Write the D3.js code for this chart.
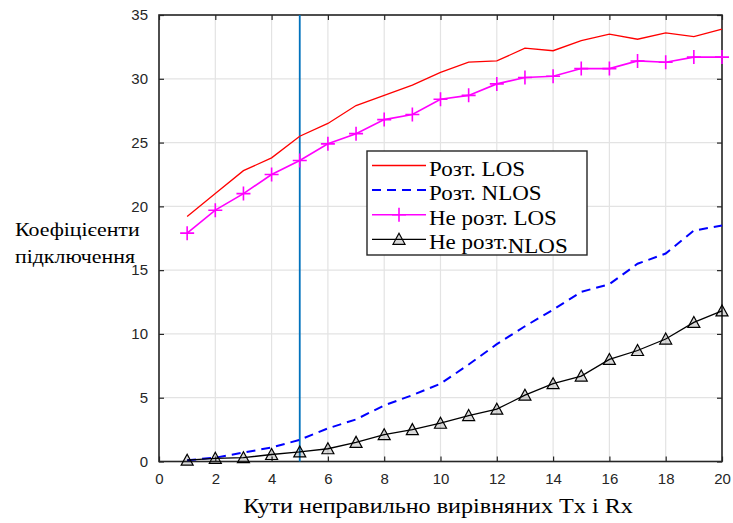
<!DOCTYPE html>
<html lang="uk">
<head>
    <meta charset="UTF-8">
    <title>Коефіцієнти підключення</title>
    <style>
        body {
            margin: 0;
            background: #fff;
        }
        .tick text {
            font: 15px 'Liberation Sans', Arial, sans-serif;
            fill: #262626;
        }
        .serif {
            font-family: 'Liberation Serif', 'Times New Roman', serif;
            fill: #000;
        }
    </style>
</head>
<body>
    <div id="chart"></div>

    <script src="https://d3js.org/d3.v7.min.js"></script>
    <script>
        // кути неправильного вирівнювання
        const angles = [1, 2, 3, 4, 5, 6, 7, 8, 9, 10, 11, 12, 13, 14, 15, 16, 17, 18, 19, 20];

        const postLOS    = [19.2, 21.0, 22.8, 23.8, 25.5, 26.5, 27.9, 28.7, 29.5, 30.5, 31.3, 31.4, 32.4, 32.2, 33.0, 33.5, 33.1, 33.6, 33.3, 33.9];
        const postNLOS   = [0.1, 0.3, 0.7, 1.1, 1.7, 2.6, 3.3, 4.4, 5.2, 6.1, 7.6, 9.2, 10.6, 11.9, 13.3, 13.9, 15.5, 16.3, 18.1, 18.5];
        const nePostLOS  = [17.9, 19.7, 21.0, 22.5, 23.6, 24.9, 25.7, 26.8, 27.2, 28.4, 28.7, 29.6, 30.1, 30.2, 30.8, 30.8, 31.4, 31.3, 31.7, 31.7];
        const nePostNLOS = [0.1, 0.25, 0.3, 0.55, 0.75, 1.0, 1.5, 2.1, 2.5, 3.0, 3.6, 4.1, 5.2, 6.1, 6.7, 8.0, 8.7, 9.6, 10.9, 11.8];

        const seriesNames = ['Розт. LOS', 'Розт. NLOS', 'Не розт. LOS', 'Не розт.NLOS'];

        const xTicks = [0, 2, 4, 6, 8, 10, 12, 14, 16, 18, 20];
        const yTicks = [0, 5, 10, 15, 20, 25, 30, 35];
        const markerX = 5; // вертикальна лінія

        const W = 733, H = 523;
        const margin = {top: 15, right: 11, bottom: 61.5, left: 159},
            width = W - margin.left - margin.right,
            height = H - margin.top - margin.bottom;

        const stretch = 1.15; // шрифт у оригіналі трохи ширший

        const root = d3.select("#chart")
          .append("svg")
            .attr("width", W)
            .attr("height", H);

        root.append("rect").attr("width", W).attr("height", H).attr("fill", "#fff");

        const svg = root.append("g")
            .attr("transform", "translate(" + margin.left + "," + margin.top + ")");

        const x = d3.scaleLinear().domain([0, 20]).range([0, width]);
        const y = d3.scaleLinear().domain([0, 35]).range([height, 0]);

        // сітка
        svg.append("g")
            .selectAll("line")
            .data(xTicks)
            .join("line")
            .attr("x1", d => x(d)).attr("x2", d => x(d))
            .attr("y1", 0).attr("y2", height)
            .attr("stroke", "#e3e3e3").attr("stroke-width", 1.2);
        svg.append("g")
            .selectAll("line")
            .data(yTicks)
            .join("line")
            .attr("x1", 0).attr("x2", width)
            .attr("y1", d => y(d)).attr("y2", d => y(d))
            .attr("stroke", "#e3e3e3").attr("stroke-width", 1.2);

        // осі (ticks всередину, як у MATLAB)
        const styleAxis = g => {
            g.select(".domain").remove();
            g.selectAll(".tick line").attr("stroke", "#262626").attr("stroke-width", 1.2);
        };
        svg.append("g")
            .attr("transform", "translate(0," + height + ")")
            .call(d3.axisBottom(x).tickValues(xTicks).tickSizeInner(-5).tickSizeOuter(0).tickPadding(12))
            .call(styleAxis);
        svg.append("g")
            .call(d3.axisLeft(y).tickValues(yTicks).tickSizeInner(-5).tickSizeOuter(0).tickPadding(11))
            .call(styleAxis);
        svg.append("g")
            .call(d3.axisTop(x).tickValues(xTicks).tickSizeInner(-5).tickSizeOuter(0).tickFormat(""))
            .call(styleAxis);
        svg.append("g")
            .attr("transform", "translate(" + width + ",0)")
            .call(d3.axisRight(y).tickValues(yTicks).tickSizeInner(-5).tickSizeOuter(0).tickFormat(""))
            .call(styleAxis);

        svg.append("rect")
            .attr("width", width).attr("height", height)
            .attr("fill", "none").attr("stroke", "#262626").attr("stroke-width", 1.6);

        // лінії даних
        const line = d3.line().x(d => x(d[0])).y(d => y(d[1]));
        const series = [
            {name: seriesNames[0], values: postLOS,    color: "#ff0000", w: 1.3, dash: null,  marker: null},
            {name: seriesNames[1], values: postNLOS,   color: "#0000ff", w: 2,   dash: "9,6", marker: null},
            {name: seriesNames[2], values: nePostLOS,  color: "#ff00ff", w: 1.6, dash: null,  marker: "plus"},
            {name: seriesNames[3], values: nePostNLOS, color: "#000000", w: 1.3, dash: null,  marker: "tri"}
        ];

        const plot = svg.append("g");

        // вертикальна лінія x = 5
        plot.append("line")
            .attr("x1", x(markerX)).attr("x2", x(markerX))
            .attr("y1", 0).attr("y2", height)
            .attr("stroke", "#0072bd").attr("stroke-width", 1.8);

        const plusPath = "M-7,0H7M0,-7V7";
        const triPath = "M0,-6L6,5H-6Z";

        function drawMarker(sel, kind, color) {
            if (kind === "plus") {
                sel.append("path").attr("d", plusPath).attr("stroke", color).attr("stroke-width", 1.6).attr("fill", "none");
            } else if (kind === "tri") {
                sel.append("path").attr("d", triPath).attr("stroke", color).attr("stroke-width", 1.2).attr("fill", "rgba(0,0,0,0.15)");
            }
        }

        series.forEach(s => {
            const pts = angles.map((a, i) => [a, s.values[i]]);
            plot.append("path")
                .datum(pts)
                .attr("d", line)
                .attr("fill", "none")
                .attr("stroke", s.color)
                .attr("stroke-width", s.w)
                .attr("stroke-dasharray", s.dash);
            if (s.marker) {
                plot.append("g")
                    .selectAll("g")
                    .data(pts)
                    .join("g")
                    .attr("transform", d => "translate(" + x(d[0]) + "," + y(d[1]) + ")")
                    .each(function() { drawMarker(d3.select(this), s.marker, s.color); });
            }
        });

        // текст із горизонтальним розтягом
        function serifText(parent, tx, ty, size, anchor) {
            return parent.append("g")
                .attr("transform", "translate(" + tx + "," + ty + ") scale(" + stretch + ",1)")
              .append("text")
                .attr("class", "serif")
                .attr("font-size", size)
                .attr("text-anchor", anchor || "start");
        }

        // легенда
        const legend = root.append("g").attr("transform", "translate(367,151)");
        legend.append("rect")
            .attr("width", 220).attr("height", 104)
            .attr("fill", "#fff").attr("stroke", "#262626").attr("stroke-width", 1.4);
        series.forEach((s, i) => {
            const ly = 14.5 + i * 24.6;
            const row = legend.append("g").attr("transform", "translate(0," + ly + ")");
            row.append("line")
                .attr("x1", 5).attr("x2", 59)
                .attr("stroke", s.color).attr("stroke-width", s.w)
                .attr("stroke-dasharray", s.dash);
            if (s.marker) {
                const m = row.append("g").attr("transform", "translate(32,0)");
                drawMarker(m, s.marker, s.color);
            }
            const t = serifText(row, 62, 10, 20);
            if (i === 3) {
                t.append("tspan").text("Не розт.");
                t.append("tspan").attr("dy", 4).text("NLOS");
            } else {
                t.text(s.name);
            }
        });

        // підписи осей
        serifText(root, 15, 236, 19).text("Коефіцієенти");
        serifText(root, 15, 263, 19).text("підключення");
        serifText(root, 438, 513, 21, "middle").text("Кути неправильно вирівняних Tx і Rx");
    </script>
</body>
</html>
